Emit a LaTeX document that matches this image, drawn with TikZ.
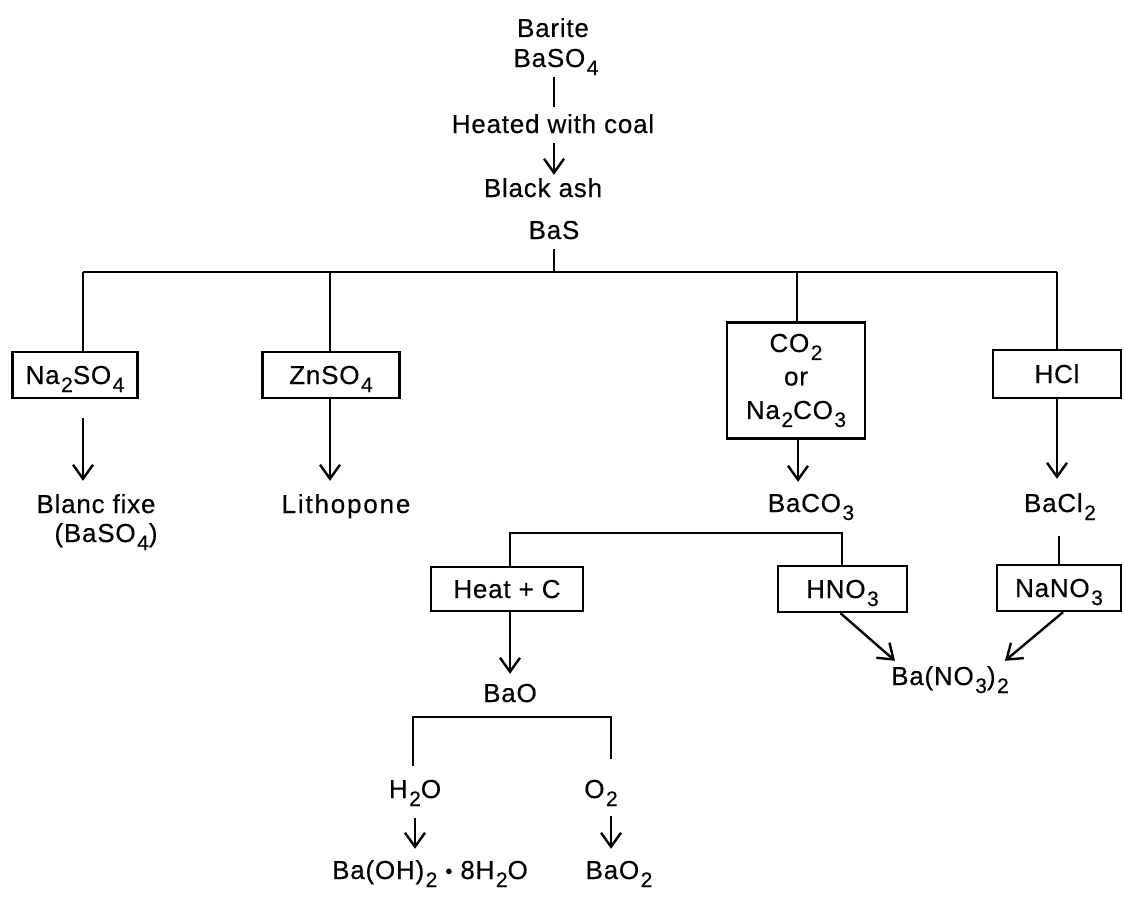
\documentclass[tikz,border=0pt]{standalone}
\usepackage{fontspec}
\setmainfont{Liberation Sans}[LetterSpace=3,FakeBold=0.4]
\usetikzlibrary{arrows.meta}
\newcommand{\sbs}[1]{\kern1.5pt\raisebox{-8pt}{\fontsize{21}{21}\selectfont #1}}
\begin{document}
\begin{tikzpicture}[x=1pt,y=-1pt,line width=2.4pt,
  txt/.style={anchor=base,inner sep=3pt,text height=18pt,text depth=6pt,font=\fontsize{26}{30}\selectfont},
  box/.style={draw,inner sep=0pt,text height=18pt,text depth=0pt,minimum height=46pt,font=\fontsize{26}{30}\selectfont},
  bigbox/.style={draw,inner sep=0pt,align=center,font=\fontsize{26}{33.5}\selectfont},
  arr/.style={-{Straight Barb[length=14pt,width=20pt]}}]
\useasboundingbox (0,0) rectangle (1124,899);

% top chain
\node[txt] (barite) at (553,37) {Barite};
\node[txt] (baso4) at (556,67) {BaSO\sbs4};
\node[txt] (heated) at (553,133) {Heated with coal};
\node[txt] (blackash) at (543,197) {Black ash};
\node[txt] (bas) at (554,239) {BaS};

\draw (baso4.south -| bas) -- ([yshift=4pt]heated.north -| bas);
\draw[arr] (heated.south -| bas) -- (blackash.north -| bas);

\coordinate (busL) at (83,272);
\coordinate (busR) at (1057,272);
\draw (busL) -- (busR);
\draw (bas.south) -- (bas.south |- busL);

% first level boxes
\node[box,minimum width=125pt] (na2so4) at (75,375) {Na\sbs2SO\sbs4};
\node[box,minimum width=137pt] (znso4) at (331,375) {ZnSO\sbs4};
\node[bigbox,minimum width=138pt,minimum height=116pt] (co2) at (796,380.5) {CO\sbs2\\or\\Na\sbs2CO\sbs3};
\node[box,minimum width=128pt,minimum height=48pt] (hcl) at (1057,374) {HCl};

\draw (busL) -- (busL |- na2so4.north);
\draw (znso4.north -| 330,0) -- (busL -| 330,0);
\draw (co2.north -| 797,0) -- (busL -| 797,0);
\draw (busR) -- (busR |- hcl.north);

% products
\node[txt] (blanc) at (96,513) {Blanc fixe};
\node[txt] (blancf) at (106,542) {(BaSO\sbs4)};
\node[txt] (litho) at (346,513) {\addfontfeatures{LetterSpace=7}Lithopone};
\node[txt] (baco3) at (811,512) {BaCO\sbs3};
\node[txt] (bacl2) at (1060,512) {BaCl\sbs2};

\draw[arr,shorten >=10pt] ([yshift=-19pt]na2so4.south -| busL) -- (blanc.north -| busL);
\draw[arr,shorten >=10pt] (znso4.south -| 330,0) -- (litho.north -| 330,0);
\draw[arr,shorten >=8pt] (co2.south -| 798,0) -- (baco3.north -| 798,0);
\draw[arr,shorten >=11pt] (hcl.south -| busR) -- (bacl2.north -| busR);

% second level
\coordinate (sbL) at (510,533);
\coordinate (sbR) at (842,533);
\node[box,minimum width=152pt,minimum height=44pt] (heatc) at (507,589) {Heat + C};
\node[box,minimum width=129pt] (hno3) at (842.5,589) {HNO\sbs3};
\node[box,minimum width=124pt] (nano3) at (1059,588) {NaNO\sbs3};

\draw (sbL |- heatc.north) -- (sbL) -- (sbR) -- (sbR |- hno3.north);
\draw[shorten <=14pt] (bacl2.south -| 1059,0) -- (nano3.north -| 1059,0);

\node[txt] (bano3) at (950,685) {Ba(NO\sbs3)\sbs2};
\draw[arr] ([xshift=-2pt]hno3.south) -- ([xshift=-55pt,yshift=2pt]bano3.north);
\draw[arr] ([xshift=4pt]nano3.south) -- ([xshift=55pt,yshift=2pt]bano3.north);

\node[txt] (bao) at (510,702) {BaO};
\draw[arr,shorten >=6pt] (heatc.south -| sbL) -- (bao.north -| sbL);

% BaO branches
\coordinate (bkL) at (413,717);
\coordinate (bkR) at (611,717);
\node[txt] (h2o) at (415,798) {H\sbs2O};
\node[txt] (o2) at (601,798) {O\sbs2};
\draw[shorten <=10pt] (h2o.north -| bkL) -- (bkL) -- (bkR) -- ([yshift=17pt]o2.north -| bkR);

\node[txt] (baoh) at (430,879) {Ba(OH)\sbs2 {\raisebox{1pt}{\fontsize{20}{20}\selectfont •}} 8H\sbs2O};
\node[txt] (bao2) at (619,879) {BaO\sbs2};
\draw[arr,shorten <=10pt,shorten >=8pt] (h2o.south -| 415,0) -- (baoh.north -| 415,0);
\draw[arr,shorten <=8pt,shorten >=8pt] (o2.south -| bkR) -- (bao2.north -| bkR);
\end{tikzpicture}
\end{document}
